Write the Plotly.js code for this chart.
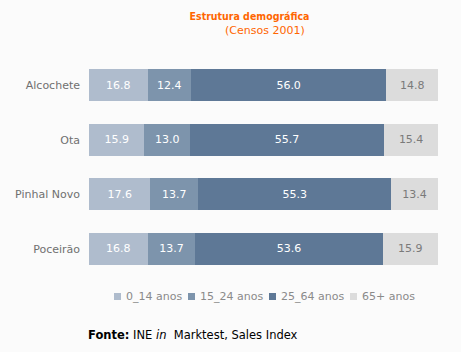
<!DOCTYPE html>
<html>
<head>
<meta charset="utf-8">
<script src="https://cdn.plot.ly/plotly-3.0.1.min.js"></script>
<style>
html,body{margin:0;padding:0;background:#fbfbfb;}
#chart{width:461px;height:352px;}
</style>
</head>
<body>
<div id="chart"></div>
<script>
const categories = ["Alcochete", "Ota", "Pinhal Novo", "Poceirão"];
const seriesNames = ["0_14 anos", "15_24 anos", "25_64 anos", "65+ anos"];
const age0_14 = [16.8, 15.9, 17.6, 16.8];
const age15_24 = [12.4, 13.0, 13.7, 13.7];
const age25_64 = [56.0, 55.7, 55.3, 53.6];
const age65plus = [14.8, 15.4, 13.4, 15.9];

const seriesValues = [age0_14, age15_24, age25_64, age65plus];
const colors = ["#afbccd", "#7d94ac", "#5e7896", "#dcdcdc"];
const textColors = ["#ffffff", "#ffffff", "#ffffff", "#7a7a7a"];

const W = 461, H = 352;
const M = {l: 89, r: 23, t: 58, b: 76};
const PW = W - M.l - M.r, PH = H - M.t - M.b;
const px = x => (x - M.l) / PW;
const py = y => (H - M.b - y) / PH;

const FONT = "DejaVu Sans, Verdana, sans-serif";

const traces = seriesValues.map((vals, i) => ({
  type: "bar",
  orientation: "h",
  name: seriesNames[i],
  x: vals,
  y: categories,
  marker: {color: colors[i], line: {width: 0}},
  text: vals.map(v => v.toFixed(1)),
  textposition: "inside",
  insidetextanchor: "middle",
  textangle: 0,
  constraintext: "none",
  textfont: {family: FONT, size: 11, color: textColors[i]},
  hoverinfo: "skip",
  showlegend: false
}));

const legendX = [114, 188, 269, 350];
const shapes = [];
const annotations = [];
seriesNames.forEach((n, i) => {
  shapes.push({
    type: "rect", xref: "paper", yref: "paper",
    x0: px(legendX[i]), x1: px(legendX[i] + 7),
    y0: py(300), y1: py(293),
    fillcolor: colors[i], line: {width: 0}
  });
  annotations.push({
    xref: "paper", yref: "paper",
    x: px(legendX[i] + 10), y: py(296.5),
    xanchor: "left", yanchor: "middle",
    text: n, showarrow: false,
    font: {family: FONT, size: 11, color: "#8a8a8a"}
  });
});

annotations.push({
  xref: "paper", yref: "paper",
  x: px(265), y: py(30),
  xanchor: "center", yanchor: "middle",
  text: "(Censos 2001)", showarrow: false,
  font: {family: FONT, size: 11, color: "#ff6600"}
});
annotations.push({
  xref: "paper", yref: "paper",
  x: px(86), y: py(335),
  xanchor: "left", yanchor: "middle",
  text: "<b>Fonte:</b> INE <i>in</i>  Marktest, Sales Index", showarrow: false,
  font: {family: FONT, size: 11.5, color: "#000000"}
});

const layout = {
  width: W, height: H,
  margin: M,
  paper_bgcolor: "#fbfbfb",
  plot_bgcolor: "#fbfbfb",
  barmode: "stack",
  bargap: 0.41,
  title: {
    text: "<b>Estrutura demográfica</b>",
    x: 249.5 / W, xanchor: "center",
    y: 1 - 16 / H, yanchor: "middle",
    font: {family: "DejaVu Sans Condensed, DejaVu Sans, sans-serif", size: 10.5, color: "#ff6600"}
  },
  xaxis: {range: [0, 100], visible: false, fixedrange: true},
  yaxis: {
    autorange: "reversed",
    showgrid: false, zeroline: false, showline: false,
    ticks: "", ticklabelstandoff: 8,
    tickfont: {family: FONT, size: 11, color: "#707070"}
  },
  shapes: shapes,
  annotations: annotations,
  showlegend: false
};

Plotly.newPlot("chart", traces, layout, {displayModeBar: false, staticPlot: true});
</script>
</body>
</html>
